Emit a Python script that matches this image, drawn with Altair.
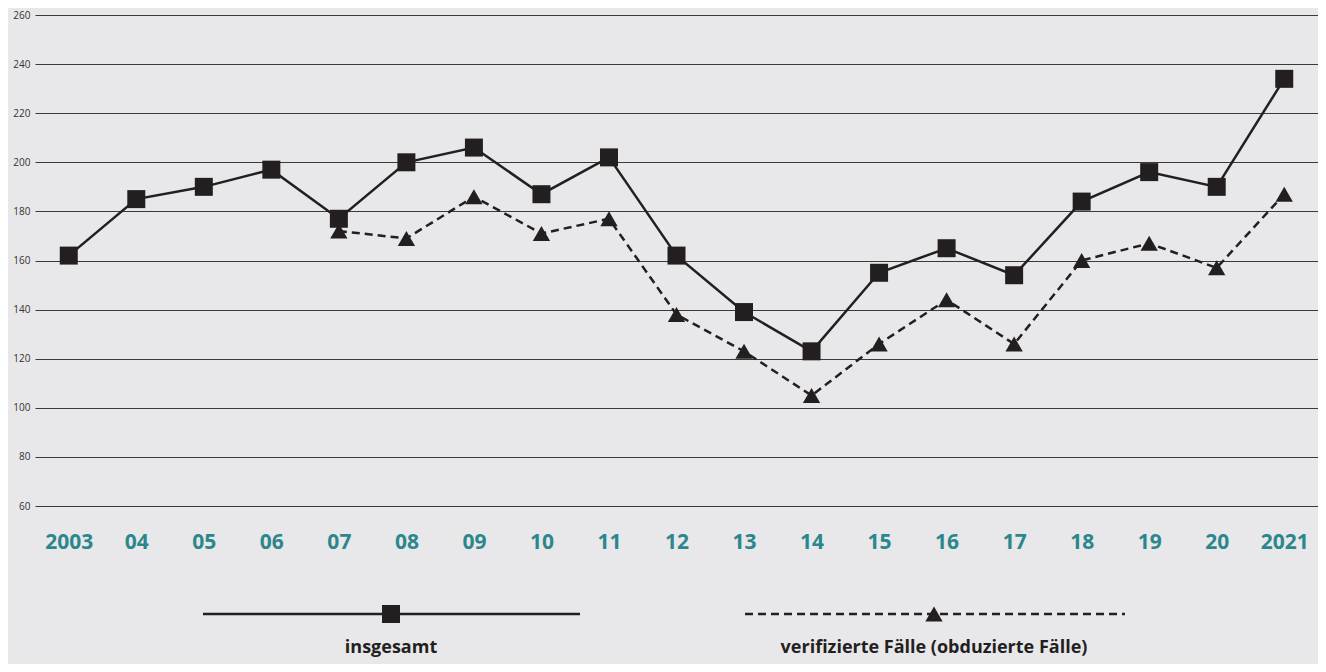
import altair as alt
import pandas as pd

years = ["2003", "04", "05", "06", "07", "08", "09", "10", "11", "12",
         "13", "14", "15", "16", "17", "18", "19", "20", "2021"]
insgesamt = [162, 185, 190, 197, 177, 200, 206, 187, 202, 162,
             139, 123, 155, 165, 154, 184, 196, 190, 234]
verifiziert = [None, None, None, None, 172, 169, 186, 171, 177, 138,
               123, 105, 126, 144, 126, 160, 167, 157, 187]
series_names = ["insgesamt", "verifizierte Fälle (obduzierte Fälle)"]
y_ticks = list(range(60, 261, 20))

rows = []
for j, a, b in zip(years, insgesamt, verifiziert):
    rows.append({"jahr": j, "wert": a, "serie": series_names[0]})
    if b is not None:
        rows.append({"jahr": j, "wert": b, "serie": series_names[1]})
df = pd.DataFrame(rows)
leg = pd.DataFrame({"serie": series_names})

INK = "#231f20"
TEAL = "#2b878c"
FONT = "Open Sans"

x_enc = alt.X(
    "jahr:O", sort=years, title=None,
    scale=alt.Scale(type="point", padding=0.5),
    axis=alt.Axis(labelAngle=0, labelColor=TEAL, labelFontSize=21,
                  labelFontWeight="bold", labelFont=FONT, labelPadding=25,
                  domain=False, ticks=False, grid=False),
)
y_enc = alt.Y(
    "wert:Q", title=None,
    scale=alt.Scale(domain=[60, 260], nice=False, zero=False),
    axis=alt.Axis(values=y_ticks, grid=True, gridColor="#3a3a3a", gridWidth=1,
                  gridOpacity=1, domain=False, ticks=False, labelFontSize=10,
                  labelColor="#333333", labelFont=FONT, labelPadding=5),
)

base = alt.Chart(df)
s1 = alt.datum.serie == series_names[0]
s2 = alt.datum.serie == series_names[1]

line1 = base.transform_filter(s1).mark_line(color=INK, strokeWidth=2.5).encode(x=x_enc, y=y_enc)
pts1 = base.transform_filter(s1).mark_point(
    shape="square", filled=True, size=324, color=INK, opacity=1).encode(x=x_enc, y=y_enc)
line2 = base.transform_filter(s2).mark_line(
    color=INK, strokeWidth=2.5, strokeDash=[8, 5]).encode(x=x_enc, y=y_enc)
pts2 = base.transform_filter(s2).mark_point(
    shape="triangle-up", filled=True, size=300, color=INK, opacity=1).encode(x=x_enc, y=y_enc)

lb = alt.Chart(leg)
leg_rule1 = lb.transform_filter(s1).mark_rule(color=INK, strokeWidth=2.5).encode(
    x=alt.value(168), x2=alt.value(545), y=alt.value(599))
leg_pt1 = lb.transform_filter(s1).mark_point(
    shape="square", filled=True, size=324, color=INK, opacity=1).encode(
    x=alt.value(356), y=alt.value(599))
leg_txt1 = lb.transform_filter(s1).mark_text(
    color=INK, fontSize=18, fontWeight="bold", font=FONT, align="center", baseline="middle").encode(
    x=alt.value(356), y=alt.value(633), text="serie:N")

leg_rule2 = lb.transform_filter(s2).mark_rule(color=INK, strokeWidth=2.5, strokeDash=[8, 5]).encode(
    x=alt.value(710), x2=alt.value(1090), y=alt.value(599))
leg_pt2 = lb.transform_filter(s2).mark_point(
    shape="triangle-up", filled=True, size=300, color=INK, opacity=1).encode(
    x=alt.value(899), y=alt.value(599))
leg_txt2 = lb.transform_filter(s2).mark_text(
    color=INK, fontSize=18, fontWeight="bold", font=FONT, align="center", baseline="middle").encode(
    x=alt.value(899), y=alt.value(633), text="serie:N")

chart = alt.layer(
    line2, pts2, line1, pts1,
    leg_rule1, leg_pt1, leg_txt1, leg_rule2, leg_pt2, leg_txt2,
).properties(
    width=1283, height=491,
    padding={"left": 27, "top": 7, "right": 0, "bottom": 158},
    autosize=alt.AutoSizeParams(type="none"),
).configure(
    background="#e8e8ea",
).configure_view(stroke=None)

chart.save("out.html", embed_options={"renderer": "svg", "actions": False})
